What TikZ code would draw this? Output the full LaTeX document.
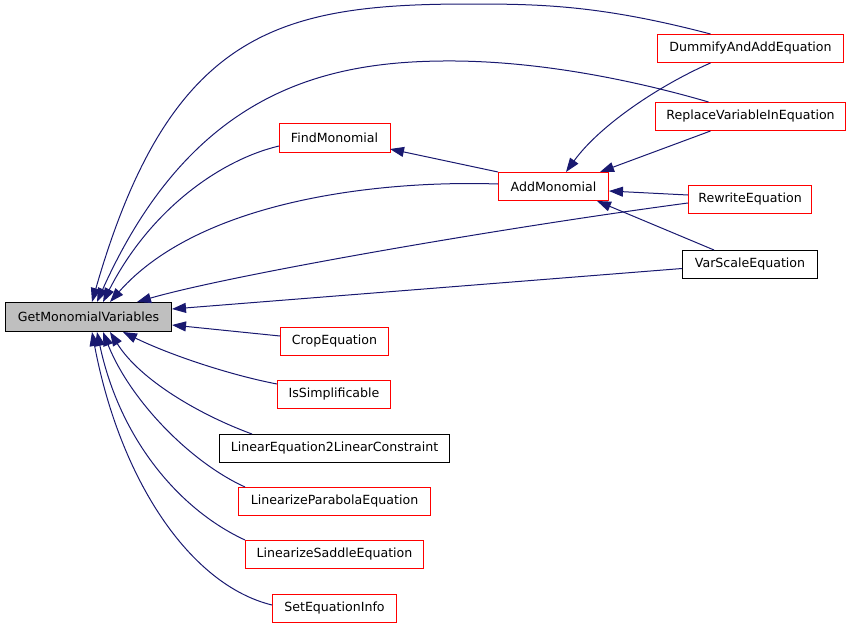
\documentclass[tikz,border=0pt]{standalone}
\usepackage{fontspec}
\setmainfont{DejaVu Sans}
\usetikzlibrary{arrows.meta}
\definecolor{edgeblue}{HTML}{191970}
\definecolor{boxred}{HTML}{FF0000}
\definecolor{boxgray}{HTML}{BFBFBF}
\begin{document}
\begin{tikzpicture}[x=1pt,y=-1pt,
  box/.style={draw=boxred, line width=1pt, fill=white, minimum height=28pt, inner sep=0pt,
    font=\fontsize{12.6}{14}\selectfont},
  blackbox/.style={box, draw=black},
  graybox/.style={box, draw=black, fill=boxgray, minimum height=29pt},
  edge/.style={draw=edgeblue, line width=1pt, -{Triangle[length=14pt,width=10pt]}}]
\useasboundingbox (0,0) rectangle (851,629);
% nodes
\node[graybox, minimum width=166pt] (gmv) at (88.5,317) {GetMonomialVariables};
\node[box, minimum width=186pt] (dum) at (750.5,48.5) {DummifyAndAddEquation};
\node[box, minimum width=190pt] (rep) at (750.5,116.5) {ReplaceVariableInEquation};
\node[box, draw=none, minimum width=110pt] (fmono) at (334.5,137.5) {FindMonomial};
\draw[boxred, line width=1pt] (fmono.south west) rectangle (fmono.north east);
\node[box, minimum width=110pt] (amono) at (553.5,186.5) {AddMonomial};
\node[box, minimum width=123pt] (rew) at (750,199.5) {RewriteEquation};
\node[blackbox, minimum width=135pt] (var) at (750,264.5) {VarScaleEquation};
\node[box, minimum width=108pt] (crop) at (334.5,341.5) {CropEquation};
\node[box, minimum width=113pt] (isimp) at (334,394.5) {IsSimplificable};
\node[blackbox, minimum width=230pt] (lineq) at (334.5,448.5) {LinearEquation2LinearConstraint};
\node[box, minimum width=192pt] (parab) at (334.5,501.5) {LinearizeParabolaEquation};
\node[box, minimum width=178pt] (sad) at (334.5,554.5) {LinearizeSaddleEquation};
\node[box, minimum width=124pt] (seteq) at (334.5,608.5) {SetEquationInfo};
% edges to GetMonomialVariables
\draw[edge] ([xshift=-40pt]dum.north) .. controls (600,5) and (540,4) .. (470,4)
  .. controls (280,4) and (170,30) .. ([xshift=3.5pt]gmv.north);
\draw[edge] ([xshift=-42pt]rep.north) .. controls (640,82) and (540,60) .. (443,61)
  .. controls (320,62) and (190,95) .. ([xshift=8.5pt]gmv.north);
\draw[edge] ([yshift=-8.5pt]fmono.west) .. controls (220,160) and (150,210) .. ([xshift=14.5pt]gmv.north);
\draw[edge] ([yshift=2.5pt]amono.west) .. controls (380,180) and (200,200) .. ([xshift=21.5pt]gmv.north);
\draw[edge] ([yshift=-3.5pt]rew.west) .. controls (500,228) and (230,275) .. ([xshift=48.5pt]gmv.north);
\draw[edge] ([yshift=-4pt]var.west) -- ([yshift=8pt]gmv.east);
\draw[edge] ([yshift=5.5pt]crop.west) -- ([yshift=-8pt]gmv.east);
\draw[edge] ([yshift=10.5pt]isimp.west) .. controls (230,375) and (170,355) .. ([xshift=34.5pt]gmv.south);
\draw[edge] ([xshift=-82.5pt]lineq.north) .. controls (200,415) and (140,380) .. ([xshift=21.5pt]gmv.south);
\draw[edge] ([xshift=-89.5pt]parab.north) .. controls (190,462) and (130,400) .. ([xshift=14.5pt]gmv.south);
\draw[edge] ([xshift=-89.5pt]sad.north) .. controls (180,510) and (120,440) .. ([xshift=8.5pt]gmv.south);
\draw[edge] ([yshift=3.5pt]seteq.west) .. controls (190,585) and (120,480) .. ([xshift=3.5pt]gmv.south);
% edges to FindMonomial / AddMonomial
\draw[edge] (amono.north west) -- ([yshift=-11.5pt]fmono.east);
\draw[edge] ([xshift=-40pt]dum.south) .. controls (660,85) and (600,125) .. ([xshift=12.5pt]amono.north);
\draw[edge] ([xshift=-40pt]rep.south) -- ([xshift=46.5pt]amono.north);
\draw[edge] ([yshift=4.5pt]rew.west) -- ([yshift=-4.5pt]amono.east);
\draw[edge] ([xshift=-36pt]var.north) -- ([xshift=43.5pt]amono.south);
\end{tikzpicture}
\end{document}
